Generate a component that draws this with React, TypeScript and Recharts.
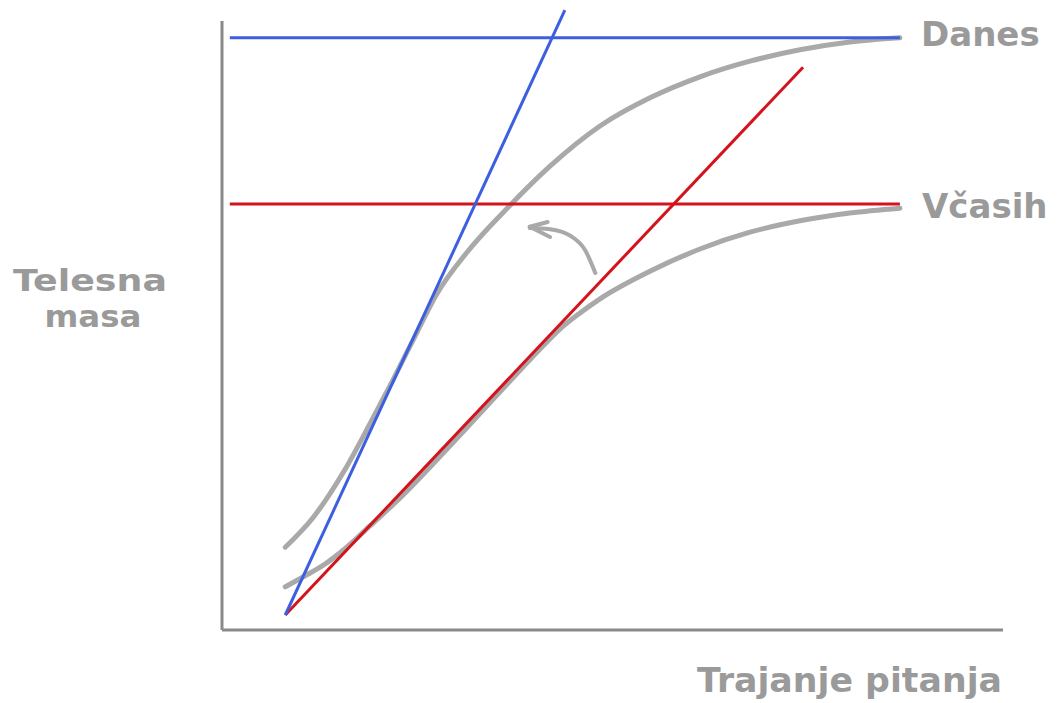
import { LineChart, Line, XAxis, YAxis, ReferenceLine } from 'recharts';

// x: 0..100 along the time axis, y: 0..105 body mass (arbitrary units)
const danesLevel = [{ x: 1.0, y: 98.7 }, { x: 86.8, y: 98.7 }];
const vcasihLevel = [{ x: 1.0, y: 71.0 }, { x: 86.8, y: 71.0 }];

const danesSlope = [{ x: 8.1, y: 2.5 }, { x: 43.9, y: 103.3 }];
const vcasihSlope = [{ x: 8.1, y: 2.5 }, { x: 74.4, y: 93.8 }];

const danesCurve = [
    { x: 8.1, y: 13.8 }, { x: 11.7, y: 18.8 }, { x: 15.5, y: 26.2 }, { x: 19.0, y: 34.5 },
    { x: 21.9, y: 41.7 }, { x: 25.0, y: 49.7 }, { x: 27.5, y: 56.0 }, { x: 31.4, y: 63.0 },
    { x: 36.9, y: 70.8 }, { x: 42.0, y: 77.3 }, { x: 48.4, y: 84.0 }, { x: 54.8, y: 88.7 },
    { x: 61.2, y: 92.2 }, { x: 67.6, y: 94.8 }, { x: 74.0, y: 96.7 }, { x: 80.4, y: 98.0 },
    { x: 86.8, y: 98.7 },
];

const vcasihCurve = [
    { x: 8.1, y: 7.2 }, { x: 10.6, y: 9.0 }, { x: 13.2, y: 11.0 }, { x: 15.7, y: 13.5 },
    { x: 18.9, y: 17.3 }, { x: 22.8, y: 22.0 }, { x: 29.2, y: 30.7 }, { x: 35.6, y: 39.7 },
    { x: 40.7, y: 46.8 }, { x: 43.3, y: 50.2 }, { x: 45.8, y: 52.8 }, { x: 48.4, y: 55.2 },
    { x: 54.8, y: 59.8 }, { x: 61.2, y: 63.5 }, { x: 67.6, y: 66.3 }, { x: 74.0, y: 68.2 },
    { x: 80.4, y: 69.5 }, { x: 86.8, y: 70.3 },
];

const arrowBody = [
    { x: 39.4, y: 67.0 }, { x: 42.0, y: 66.8 }, { x: 44.6, y: 65.7 }, { x: 46.5, y: 63.3 }, { x: 47.8, y: 59.5 },
];
const arrowWingTop = [{ x: 39.4, y: 67.2 }, { x: 41.7, y: 68.0 }];
const arrowWingBottom = [{ x: 39.4, y: 67.2 }, { x: 42.0, y: 65.5 }];

const BLUE = '#3b5fe0';
const RED = '#d4141c';
const GRAY = '#a9a9a9';
const AXIS = '#8a8a8a';
const LABEL = '#9a9a9a';
const FONT = '"DejaVu Sans", Verdana, sans-serif';

export default function App() {
    const labelStyle = { fontFamily: FONT, fontWeight: 700, fontSize: 34, fill: LABEL };
    const yLabelStyle = { ...labelStyle, fontSize: 31 };
    return (
        <div style={{ position: 'absolute', left: 0, top: 0, width: 1063, height: 703, background: '#fff' }}>
            <LineChart width={1063} height={703} margin={{ top: 0, right: 60, bottom: 73, left: 222 }}>
                <XAxis type="number" dataKey="x" domain={[0, 100]} hide />
                <YAxis type="number" dataKey="y" domain={[0, 105]} hide />
                <ReferenceLine segment={[{ x: 0, y: 101.5 }, { x: 0, y: 0 }]} stroke={AXIS} strokeWidth={3} ifOverflow="visible" />
                <ReferenceLine segment={[{ x: 0, y: 0 }, { x: 100, y: 0 }]} stroke={AXIS} strokeWidth={3} ifOverflow="visible" />

                <Line data={danesCurve} dataKey="y" type="monotone" stroke={GRAY} strokeWidth={5} dot={false} strokeLinecap="round" isAnimationActive={false} />
                <Line data={vcasihCurve} dataKey="y" type="monotone" stroke={GRAY} strokeWidth={5} dot={false} strokeLinecap="round" isAnimationActive={false} />
                <Line data={arrowBody} dataKey="y" type="monotone" stroke={GRAY} strokeWidth={4} dot={false} strokeLinecap="round" isAnimationActive={false} />
                <Line data={arrowWingTop} dataKey="y" type="linear" stroke={GRAY} strokeWidth={4} dot={false} strokeLinecap="round" isAnimationActive={false} />
                <Line data={arrowWingBottom} dataKey="y" type="linear" stroke={GRAY} strokeWidth={4} dot={false} strokeLinecap="round" isAnimationActive={false} />

                <Line data={vcasihLevel} dataKey="y" type="linear" stroke={RED} strokeWidth={3} dot={false} isAnimationActive={false} />
                <Line data={vcasihSlope} dataKey="y" type="linear" stroke={RED} strokeWidth={3} dot={false} isAnimationActive={false} />
                <Line data={danesLevel} dataKey="y" type="linear" stroke={BLUE} strokeWidth={3} dot={false} isAnimationActive={false} />
                <Line data={danesSlope} dataKey="y" type="linear" stroke={BLUE} strokeWidth={3} dot={false} isAnimationActive={false} />
            </LineChart>
            <svg width={1063} height={703} style={{ position: 'absolute', left: 0, top: 0, pointerEvents: 'none' }}>
                <text x={921} y={46} style={labelStyle}>Danes</text>
                <text x={922} y={218} style={labelStyle}>Včasih</text>
                <text textAnchor="middle" style={yLabelStyle}>
                    <tspan x={90} y={291} textLength={154} lengthAdjust="spacingAndGlyphs">Telesna</tspan>
                    <tspan x={93} y={327} textLength={97} lengthAdjust="spacingAndGlyphs">masa</tspan>
                </text>
                <text x={697} y={692} textLength={305} lengthAdjust="spacingAndGlyphs" style={labelStyle}>Trajanje pitanja</text>
            </svg>
        </div>
    );
}
